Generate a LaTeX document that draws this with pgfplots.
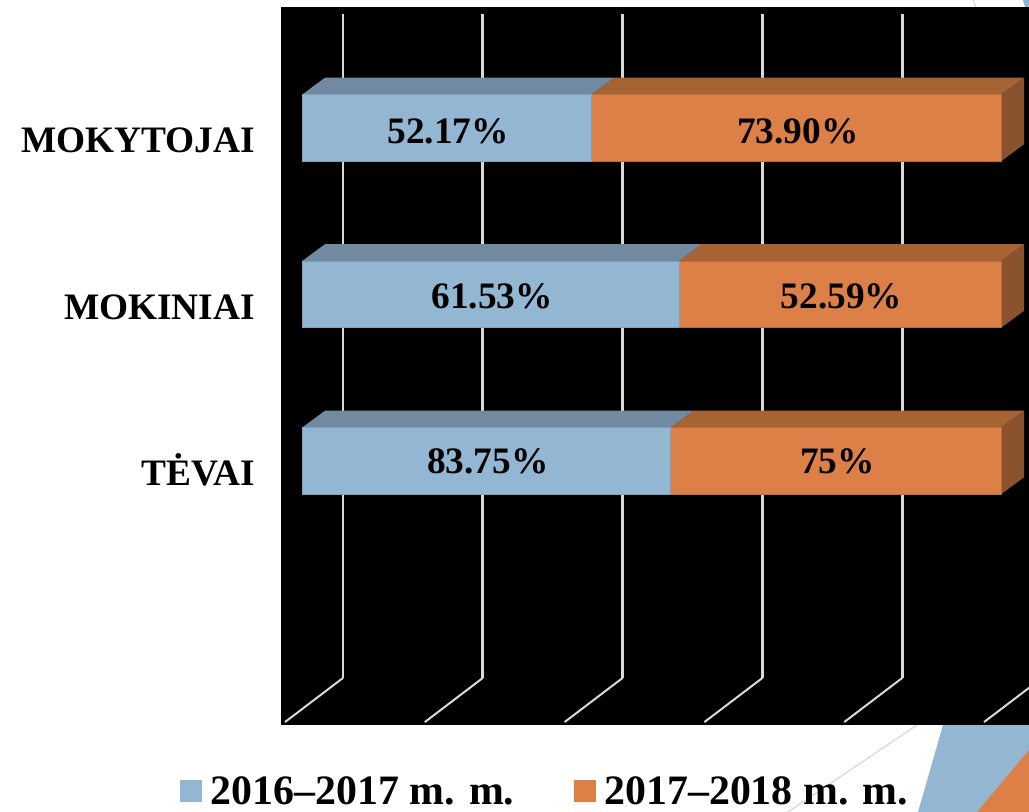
\documentclass[border=0pt]{standalone}
\usepackage{pgfplots}
\pgfplotsset{compat=1.18}
\usepackage{pgfplotstable}
\usepackage{fontspec}
\setmainfont{Liberation Serif}
\definecolor{cblue}{HTML}{93B6D3}
\definecolor{corange}{HTML}{DD8047}
\definecolor{tblue}{HTML}{728AA1}
\definecolor{torange}{HTML}{A66435}
\definecolor{sorange}{HTML}{8B532D}
\definecolor{eblue}{HTML}{7F9FBB}
\definecolor{eorange}{HTML}{B96C3C}
\definecolor{gridc}{HTML}{D9D9D9}
\pgfplotstableread{
y yl a b la lb
0 0.006 83.75 75.00 83.75\% 75\%
1 1 61.53 52.59 61.53\% 52.59\%
2 1.988 52.17 73.90 52.17\% 73.90\%
}\datatable
\pgfplotsset{
  base/.style={
    at={(210.75pt,65.25pt)}, anchor=south west,
    scale only axis, width=561pt, height=538.5pt,
    xmin=-3.004, xmax=104, ymin=-1.5856, ymax=2.7267,
    axis line style={draw=none}, xtick=\empty, ytick=\empty,
    major tick length=0pt,
  },
  floor/.style={gridc,line width=1.5pt,forget plot},
  wall/.style={gridc,line width=2.2pt,forget plot},
}
\begin{document}
\begin{tikzpicture}[x=0.75pt,y=0.75pt]
\useasboundingbox (0,0) rectangle (1029,812);
\fill[white] (0,0) rectangle (1029,812);
% slide decoration
\draw[gridc,line width=0.9pt] (917,87) -- (788,0);
\draw[gridc,line width=0.9pt] (973,812) -- (976,805);
\fill[cblue] (943,87) -- (1029,87) -- (1029,0) -- (918,0) -- cycle;
\fill[corange] (1029,62) -- (977,0) -- (1029,0) -- cycle;
\fill[cblue] (1023,812) -- (1029,812) -- (1029,805) -- (1025,805) -- cycle;
% back layer: wall, grid, 3D faces, category labels
\begin{axis}[base,
  axis background/.style={fill=black},
  ytick={0,1,2},
  yticklabels={T\.{E}VAI,MOKINIAI,MOKYTOJAI},
  yticklabel style={font=\fontsize{28}{30}\selectfont\bfseries,anchor=base east,yshift=-18.5pt,xshift=-16pt},
]
\addplot[floor] coordinates {(-2.43,-1.568) (5.87,-1.303)};
\addplot[floor] coordinates {(17.57,-1.568) (25.87,-1.303)};
\addplot[floor] coordinates {(37.57,-1.568) (45.87,-1.303)};
\addplot[floor] coordinates {(57.57,-1.568) (65.87,-1.303)};
\addplot[floor] coordinates {(77.57,-1.568) (85.87,-1.303)};
\addplot[floor] coordinates {(97.57,-1.568) (105.87,-1.303)};
\addplot[wall] coordinates {(5.87,-1.303) (5.87,2.685)};
\addplot[wall] coordinates {(25.87,-1.303) (25.87,2.685)};
\addplot[wall] coordinates {(45.87,-1.303) (45.87,2.685)};
\addplot[wall] coordinates {(65.87,-1.303) (65.87,2.685)};
\addplot[wall] coordinates {(85.87,-1.303) (85.87,2.685)};
% top faces (bar top at y+0.2, depth 3.29 / 0.102)
\addplot[fill=tblue,draw=none] coordinates {(0,2.2) (41.38,2.2) (44.67,2.302) (3.29,2.302)} --cycle;
\addplot[fill=torange,draw=none] coordinates {(41.38,2.2) (100,2.2) (103.29,2.302) (44.67,2.302)} --cycle;
\addplot[fill=tblue,draw=none] coordinates {(0,1.2) (53.92,1.2) (57.21,1.302) (3.29,1.302)} --cycle;
\addplot[fill=torange,draw=none] coordinates {(53.92,1.2) (100,1.2) (103.29,1.302) (57.21,1.302)} --cycle;
\addplot[fill=tblue,draw=none] coordinates {(0,0.2) (52.76,0.2) (56.05,0.302) (3.29,0.302)} --cycle;
\addplot[fill=torange,draw=none] coordinates {(52.76,0.2) (100,0.2) (103.29,0.302) (56.05,0.302)} --cycle;
% side faces
\addplot[fill=sorange,draw=none] coordinates {(100,2.2) (103.29,2.302) (103.29,1.902) (100,1.8)} --cycle;
\addplot[fill=sorange,draw=none] coordinates {(100,1.2) (103.29,1.302) (103.29,0.902) (100,0.8)} --cycle;
\addplot[fill=sorange,draw=none] coordinates {(100,0.2) (103.29,0.302) (103.29,-0.098) (100,-0.2)} --cycle;
\end{axis}
% bars, shown as shares of each row's total
\begin{axis}[base,
  xbar stacked, bar width=49.9pt,
  legend columns=2,
  legend style={at={(-0.135,-0.0925)},anchor=west,draw=none,fill=none,inner sep=0pt,
    font=\fontsize{31.4}{34}\selectfont\bfseries,
    /tikz/every even column/.append style={column sep=42.5pt}},
  legend image code/.code={\path[draw=none,fill=none] (0pt,0pt) rectangle (21pt,0pt);\fill[#1,draw=none] (0pt,-8.25pt) rectangle (16.5pt,8.25pt);},
]
\addplot[fill=cblue,draw=eblue,line width=0.5pt] table[x expr={\thisrow{a}/(\thisrow{a}+\thisrow{b})*100},y=y] {\datatable};
\addplot[fill=corange,draw=eorange,line width=0.5pt] table[x expr={\thisrow{b}/(\thisrow{a}+\thisrow{b})*100},y=y] {\datatable};
\legend{2016--2017 m. m.,2017--2018 m. m.}
\end{axis}
% value labels
\begin{axis}[base,
  nodes near coords,
  point meta=explicit symbolic,
  nodes near coords style={font=\fontsize{28}{30}\selectfont\bfseries,anchor=base,yshift=-10.5pt,xshift=1.2pt,inner sep=0pt,text=black},
]
\addplot[draw=none,mark=none] table[x expr={\thisrow{a}/(\thisrow{a}+\thisrow{b})*50},y=yl,meta=la] {\datatable};
\addplot[draw=none,mark=none] table[x expr={100*(\thisrow{a}+0.5*\thisrow{b})/(\thisrow{a}+\thisrow{b})},y=yl,meta=lb] {\datatable};
\end{axis}
\end{tikzpicture}
\end{document}
